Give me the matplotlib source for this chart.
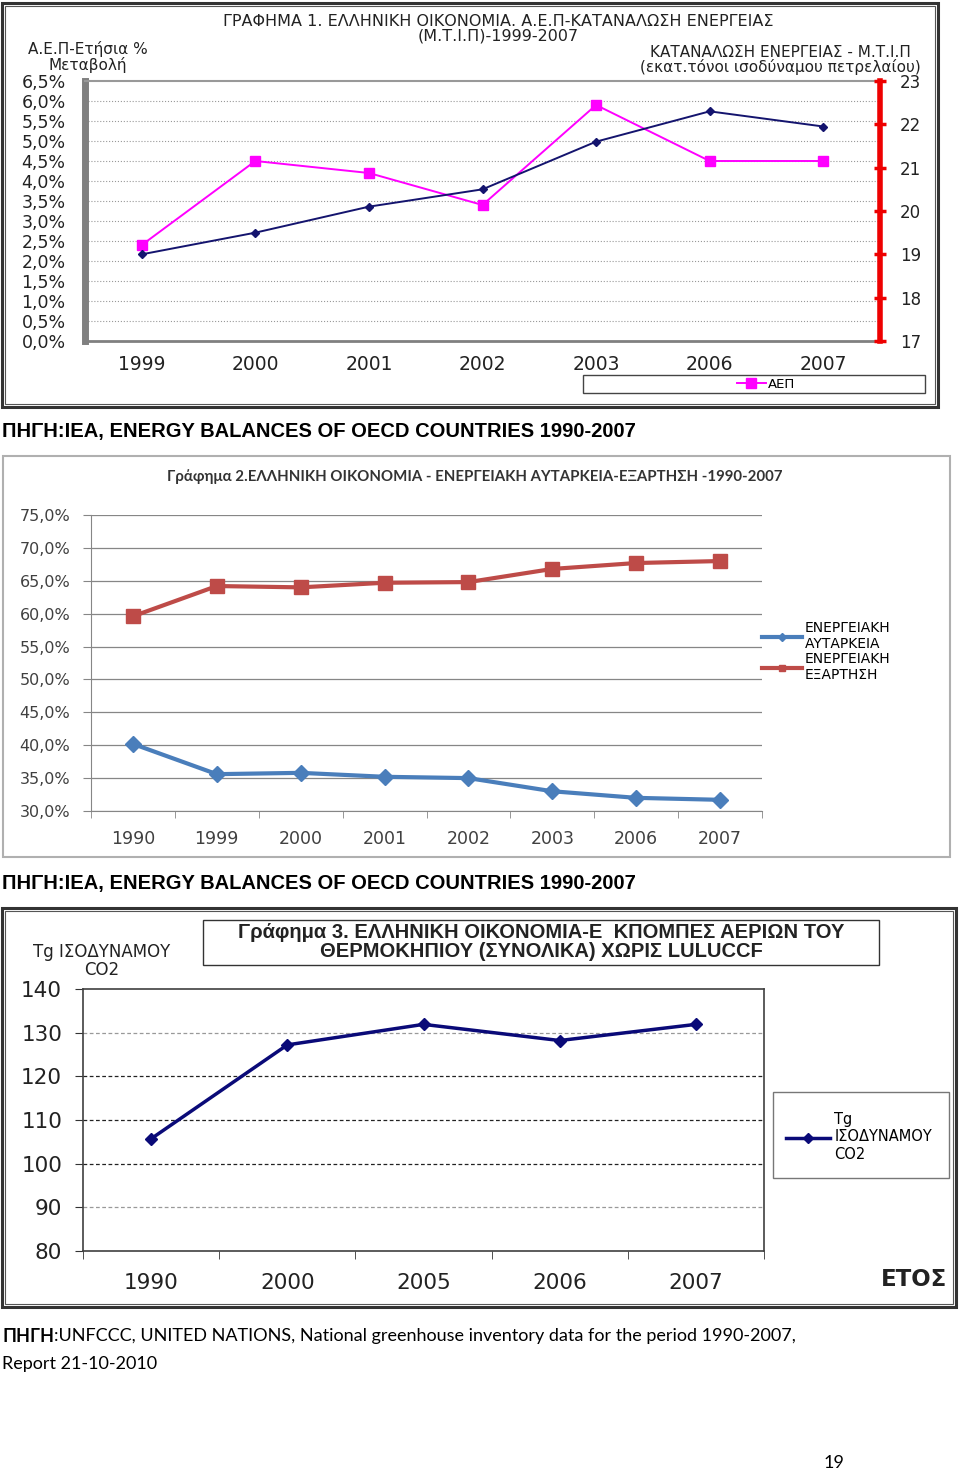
import numpy as np
import matplotlib
matplotlib.use("Agg")
import matplotlib.pyplot as plt
from matplotlib.patches import Rectangle

# chart 1: GDP annual % change vs energy consumption (Mtoe)
years1 = ['1999', '2000', '2001', '2002', '2003', '2006', '2007']
gdp_change = [2.4, 4.5, 4.2, 3.4, 5.9, 4.5, 4.5]
energy_cons = [19.0, 19.5, 20.1, 20.5, 21.6, 22.3, 21.95]

# chart 2: energy self-sufficiency / dependence (%)
years2 = ['1990', '1999', '2000', '2001', '2002', '2003', '2006', '2007']
self_suff = [40.2, 35.6, 35.8, 35.2, 35.0, 33.0, 32.0, 31.7]
dependence = [59.6, 64.2, 64.0, 64.7, 64.8, 66.8, 67.7, 68.0]

# chart 3: greenhouse gas emissions (Tg CO2 eq)
years3 = ['1990', '2000', '2005', '2006', '2007']
ghg = [105.7, 127.2, 131.9, 128.2, 131.9]

W, H = 960, 1473
fig = plt.figure(figsize=(W / 100, H / 100), dpi=100)
plt.rcParams['font.family'] = ['DejaVu Sans']

# background axes in pixel coordinates for frames and free text
bg = fig.add_axes([0, 0, 1, 1])
bg.set_xlim(0, W)
bg.set_ylim(H, 0)
bg.axis('off')


def place(x0, y0, x1, y1):
    ax = fig.add_axes([x0 / W, 1 - y1 / H, (x1 - x0) / W, (y1 - y0) / H])
    ax.set_zorder(2)
    return ax


def pct(v, pos):
    return ('%.1f%%' % v).replace('.', ',')


# ---------------- chart 1 ----------------
bg.add_patch(Rectangle((2, 3), 936, 404, fill=False, lw=2.2, ec='#333333'))
bg.add_patch(Rectangle((5, 6), 930, 398, fill=False, lw=0.8, ec='#555555'))
bg.text(498, 29, 'ΓΡΑΦΗΜΑ 1. ΕΛΛΗΝΙΚΗ ΟΙΚΟΝΟΜΙΑ. Α.Ε.Π-ΚΑΤΑΝΑΛΩΣΗ ΕΝΕΡΓΕΙΑΣ\n'
        '(Μ.Τ.Ι.Π)-1999-2007', ha='center', va='center', fontsize=11.5,
        linespacing=0.92, color='#222222')
bg.text(88, 57, 'Α.Ε.Π-Ετήσια %\nΜεταβολή', ha='center', va='center', fontsize=11,
        linespacing=1.0, color='#222222')
bg.text(780, 60, 'ΚΑΤΑΝΑΛΩΣΗ ΕΝΕΡΓΕΙΑΣ - Μ.Τ.Ι.Π\n(εκατ.τόνοι ισοδύναμου πετρελαίου)',
        ha='center', va='center', fontsize=11, linespacing=0.9, color='#222222')

ax1 = place(85, 81, 880, 341)
x1 = np.arange(len(years1))
ax1.set_xlim(-0.5, len(years1) - 0.5)
ax1.set_ylim(0, 6.5)
ax1.set_yticks(np.arange(0, 6.51, 0.5))
ax1.yaxis.set_major_formatter(plt.FuncFormatter(pct))
ax1.set_xticks(x1)
ax1.set_xticklabels(years1)
ax1.tick_params(axis='y', length=0, pad=14, labelsize=12.5, colors='#222222')
ax1.tick_params(axis='x', length=0, pad=10, labelsize=13.5, colors='#222222')
for v in np.arange(0.5, 6.5, 0.5):
    ax1.axhline(v, color='#999999', lw=0.8, ls=':', zorder=0)
ax1.spines['left'].set_color('#808080')
ax1.spines['left'].set_linewidth(5)
ax1.spines['bottom'].set_color('#808080')
ax1.spines['bottom'].set_linewidth(2)
ax1.spines['top'].set_color('#999999')
ax1.spines['top'].set_linewidth(1.5)
ax1.spines['right'].set_visible(False)
gdp_line, = ax1.plot(x1, gdp_change, color='#ff00ff', lw=1.4, marker='s', ms=7,
                     label='ΑΕΠ', zorder=3)

ax1r = ax1.twinx()
ax1r.set_ylim(17, 23)
ax1r.set_yticks(range(17, 24))
ax1r.spines['right'].set_color('#ee0000')
ax1r.spines['right'].set_linewidth(4)
for s in ['left', 'top', 'bottom']:
    ax1r.spines[s].set_visible(False)
ax1r.tick_params(axis='y', direction='inout', length=9, width=2.5, color='#ee0000',
                 pad=10, labelsize=12, labelcolor='#222222')
ax1r.plot(x1, energy_cons, color='#14146e', lw=1.4, marker='D', ms=4.5, zorder=3)

bg.add_patch(Rectangle((583, 375), 342, 18, fill=False, lw=1, ec='#444444'))
ax1.legend(handles=[gdp_line], loc='center', bbox_to_anchor=(766, 384),
           bbox_transform=bg.transData, frameon=False, fontsize=9.5, handlelength=2.2,
           handletextpad=0.2, borderpad=0, borderaxespad=0)

bg.text(2, 432, 'ΠΗΓΗ:IEA, ENERGY BALANCES OF OECD COUNTRIES 1990-2007', ha='left',
        va='center', fontsize=14.5, fontweight='bold', family='Liberation Sans')

# ---------------- chart 2 ----------------
bg.add_patch(Rectangle((3, 456), 947, 401, fill=False, lw=1.5, ec='#b0b0b0'))
bg.text(475, 477, 'Γράφημα 2.ΕΛΛΗΝΙΚΗ ΟΙΚΟΝΟΜΙΑ - ΕΝΕΡΓΕΙΑΚΗ ΑΥΤΑΡΚΕΙΑ-ΕΞΑΡΤΗΣΗ -1990-2007',
        ha='center', va='center', fontsize=10.8, fontweight='bold', family='Lato',
        color='#333333')

ax2 = place(91, 515, 762, 811)
x2 = np.arange(len(years2))
ax2.set_xlim(-0.5, len(years2) - 0.5)
ax2.set_ylim(30, 75)
ax2.set_yticks(np.arange(30, 75.1, 5))
ax2.yaxis.set_major_formatter(plt.FuncFormatter(pct))
ax2.set_xticks(x2)
ax2.set_xticklabels(years2)
ax2.set_xticks(np.arange(-0.5, len(years2)), minor=True)
ax2.tick_params(axis='y', direction='out', length=6, color='#868686', pad=9,
                labelsize=11.5, labelcolor='#404040')
ax2.tick_params(axis='x', which='major', length=0, pad=14, labelsize=12.5, labelcolor='#404040')
ax2.tick_params(axis='x', which='minor', direction='out', length=5, color='#868686')
ax2.grid(axis='y', color='#868686', lw=0.9)
ax2.set_axisbelow(True)
for s in ['top', 'right']:
    ax2.spines[s].set_visible(False)
ax2.spines['left'].set_color('#868686')
ax2.spines['bottom'].set_color('#868686')
ax2.plot(x2, self_suff, color='#4a7ebb', lw=3, marker='D', ms=8,
         label='ΕΝΕΡΓΕΙΑΚΗ\nΑΥΤΑΡΚΕΙΑ', zorder=3)
ax2.plot(x2, dependence, color='#be4b48', lw=3, marker='s', ms=10,
         label='ΕΝΕΡΓΕΙΑΚΗ\nΕΞΑΡΤΗΣΗ', zorder=3)
ax2.legend(loc='upper left', bbox_to_anchor=(762, 621), bbox_transform=bg.transData,
           frameon=False, fontsize=10, handlelength=2.9, handletextpad=0.2,
           borderpad=0, borderaxespad=0, labelspacing=0.05, markerscale=0.5)

bg.text(2, 883, 'ΠΗΓΗ:IEA, ENERGY BALANCES OF OECD COUNTRIES 1990-2007', ha='left',
        va='center', fontsize=14.5, fontweight='bold', family='Liberation Sans')

# ---------------- chart 3 ----------------
bg.add_patch(Rectangle((2, 908), 954, 399, fill=False, lw=2.2, ec='#333333'))
bg.add_patch(Rectangle((5, 911), 948, 393, fill=False, lw=0.8, ec='#555555'))
bg.add_patch(Rectangle((203, 920), 676, 45, fill=False, lw=1, ec='#333333'))
bg.text(541, 942, 'Γράφημα 3. ΕΛΛΗΝΙΚΗ ΟΙΚΟΝΟΜΙΑ-Ε  ΚΠΟΜΠΕΣ ΑΕΡΙΩΝ ΤΟΥ\n'
        'ΘΕΡΜΟΚΗΠΙΟΥ (ΣΥΝΟΛΙΚΑ) ΧΩΡΙΣ LULUCCF', ha='center', va='center',
        fontsize=14.5, fontweight='bold', linespacing=0.95,
        family='Liberation Sans', color='#222222')
bg.text(102, 961, 'Tg ΙΣΟΔΥΝΑΜΟΥ\nCO2', ha='center', va='center', fontsize=12,
        linespacing=1.0, color='#222222')
bg.text(947, 1280, 'ΕΤΟΣ', ha='right', va='center', fontsize=16.5, fontweight='bold',
        color='#222222')

ax3 = place(83, 989, 764, 1251)
x3 = np.arange(len(years3))
ax3.set_xlim(-0.5, len(years3) - 0.5)
ax3.set_ylim(80, 140)
ax3.set_yticks(range(80, 141, 10))
ax3.set_xticks(x3)
ax3.set_xticklabels(years3)
ax3.set_xticks(np.arange(-0.5, len(years3)), minor=True)
ax3.tick_params(axis='y', direction='out', length=6, color='#333333', pad=9,
                labelsize=15.5, labelcolor='#222222')
ax3.tick_params(axis='x', which='major', length=0, pad=16, labelsize=15.5, labelcolor='#222222')
ax3.tick_params(axis='x', which='minor', direction='out', length=6, color='#333333')
for s in ax3.spines.values():
    s.set_color('#404040')
    s.set_linewidth(1.2)
grid_vals = [90, 100, 110, 120, 130]
grid_cols = ['#999999', '#222222', '#222222', '#222222', '#999999']
for v, c in zip(grid_vals, grid_cols):
    ax3.axhline(v, color=c, lw=0.9, ls=(0, (3, 2)), zorder=0)
ax3.plot(x3, ghg, color='#0a0a78', lw=2.5, marker='D', ms=6,
         label='Tg\nΙΣΟΔΥΝΑΜΟΥ\nCO2', zorder=3)

bg.add_patch(Rectangle((773, 1092), 176, 86, fill=False, lw=1, ec='#777777'))
ax3.legend(loc='upper left', bbox_to_anchor=(786, 1112), bbox_transform=bg.transData,
           frameon=False, fontsize=10.5, handlelength=3.0, handletextpad=0.3,
           borderpad=0, borderaxespad=0, markerscale=0.8)

# caption with bold prefix
t1 = bg.text(2, 1336, 'ΠΗΓΗ', ha='left', va='center', fontsize=13, fontweight='bold',
             family='Lato')
bg.annotate(':UNFCCC, UNITED NATIONS, National greenhouse inventory data for the period 1990-2007,',
            xy=(1, 0.5), xycoords=t1, ha='left', va='center', fontsize=13, family='Lato')
bg.text(2, 1364, 'Report 21-10-2010', ha='left', va='center', fontsize=13, family='Lato')
bg.text(834, 1463, '19', ha='center', va='center', fontsize=13, family='Lato')

fig.savefig('out.png', dpi=100)
